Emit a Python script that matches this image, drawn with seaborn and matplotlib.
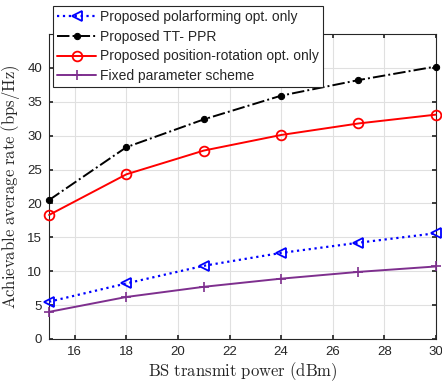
import matplotlib
matplotlib.use("Agg")
import matplotlib.pyplot as plt
import seaborn as sns
import pandas as pd

power = [15, 18, 21, 24, 27, 30]
polar = [5.5, 8.2, 10.8, 12.7, 14.2, 15.6]
ttppr = [20.5, 28.3, 32.4, 35.9, 38.2, 40.2]
posrot = [18.3, 24.3, 27.8, 30.1, 31.8, 33.1]
fixed = [4.0, 6.2, 7.7, 8.9, 9.9, 10.7]
names = ["Proposed polarforming opt. only", "Proposed TT- PPR",
         "Proposed position-rotation opt. only", "Fixed parameter scheme"]
xticks = [16, 18, 20, 22, 24, 26, 28, 30]
yticks = [0, 5, 10, 15, 20, 25, 30, 35, 40]

sns.set_theme(style="whitegrid")
plt.rcParams['font.family'] = ['Liberation Sans', 'DejaVu Sans']
plt.rcParams['mathtext.fontset'] = 'cm'

fig = plt.figure(figsize=(4.42, 3.82), dpi=100)
ax = fig.add_axes([0.111, 0.1126, 0.875, 0.7984])

styles = [
    dict(color="#0000ff", linestyle=":", marker="<", markersize=7, markerfacecolor="none",
         markeredgecolor="#0000ff", markeredgewidth=1.3, linewidth=1.6),
    dict(color="black", linestyle="-.", marker="o", markersize=4.5, markerfacecolor="black",
         markeredgecolor="black", linewidth=1.4),
    dict(color="#ff0000", linestyle="-", marker="o", markersize=7, markerfacecolor="none",
         markeredgecolor="#ff0000", markeredgewidth=1.3, linewidth=1.4),
    dict(color="#7e2f8e", linestyle="-", marker="+", markersize=7, markeredgewidth=1.2,
         markeredgecolor="#7e2f8e", linewidth=1.4),
]
series = [polar, ttppr, posrot, fixed]
for name, vals, st in zip(names, series, styles):
    df = pd.DataFrame({"x": power, "y": vals})
    sns.lineplot(data=df, x="x", y="y", ax=ax, label=name, clip_on=False, zorder=3, **st)

ax.set_xlim(15, 30)
ax.set_ylim(0, 45)
ax.set_xticks(xticks)
ax.set_yticks(yticks)
ax.grid(True, color="#e0e0e0", linewidth=0.8)
for s in ax.spines.values():
    s.set_color("#262626")
    s.set_linewidth(0.8)
ax.tick_params(axis="both", direction="in", length=3, labelsize=9.5, colors="#262626", pad=5,
               top=True, right=True, bottom=True, left=True)
ax.set_xlabel(r"$\mathrm{BS\ transmit\ power\ (dBm)}$", fontsize=12, color="#262626", labelpad=2)
ax.set_ylabel(r"$\mathrm{Achievable\ average\ rate\ (bps/Hz)}$", fontsize=12, color="#262626", labelpad=4)

leg = ax.legend(loc="upper left", bbox_to_anchor=(0.0, 1.105), fontsize=10, frameon=True,
                fancybox=False, framealpha=1, edgecolor="#262626", borderpad=0.3,
                labelspacing=0.4, handlelength=2.8, handletextpad=0.3, borderaxespad=0.3)
leg.get_frame().set_linewidth(0.8)
leg.set_zorder(5)

fig.savefig("out.png", dpi=100)
